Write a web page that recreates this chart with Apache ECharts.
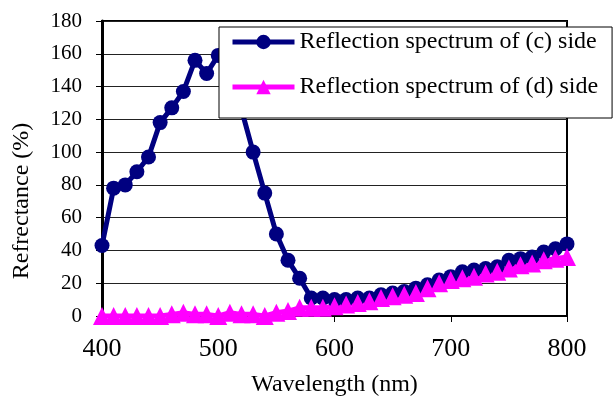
<!DOCTYPE html>
<html>
<head>
<meta charset="utf-8">
<script src="https://cdn.jsdelivr.net/npm/echarts@6/dist/echarts.min.js"></script>
<style>
  html, body { margin: 0; padding: 0; background: #fff; }
  #main { width: 613px; height: 397px; }
</style>
</head>
<body>
<div id="main"></div>
<script>
var wavelength = [400, 410, 420, 430, 440, 450, 460, 470, 480, 490,
  500, 510, 520, 530, 540, 550, 560, 570, 580, 590,
  600, 610, 620, 630, 640, 650, 660, 670, 680, 690,
  700, 710, 720, 730, 740, 750, 760, 770, 780, 790, 800];
var cSide = [43, 78, 80, 88, 97, 118, 127, 137, 156, 148,
  159, 155, 126, 100, 75, 50, 34, 23, 11, 11,
  10, 10, 11, 11, 13, 14, 15, 17, 19, 22,
  24, 27, 28, 29, 30, 34, 35, 36, 39, 41, 44];
var dSide = [0, 0, 0, 0, 0, 0, 1, 2, 1, 1,
  0, 2, 1, 1, 0, 2, 3, 5, 5, 5,
  6, 7, 8, 9, 11, 12, 13, 14, 17, 20,
  22, 23, 24, 26, 27, 29, 31, 32, 34, 35, 36];
var seriesNames = ['Reflection spectrum of (c) side', 'Reflection spectrum of (d) side'];

function pairs(ys) {
  return wavelength.map(function (x, i) { return [x, ys[i]]; });
}

var font = '"Liberation Serif", "Times New Roman", serif';

var option = {
  backgroundColor: '#fff',
  animation: false,
  textStyle: { fontFamily: font, color: '#000' },
  grid: {
    left: 102,
    right: 46,
    top: 21,
    bottom: 81,
    outerBoundsMode: 'none',
    containLabel: false,
    show: true,
    borderColor: '#000',
    borderWidth: 2
  },
  legend: {
    orient: 'vertical',
    left: 219,
    top: 27,
    data: seriesNames,
    itemWidth: 62,
    itemHeight: 18,
    itemGap: 21,
    padding: [3, 14, 19, 11],
    backgroundColor: '#fff',
    borderColor: '#000',
    borderWidth: 1,
    lineStyle: { width: 5 },
    textStyle: { fontFamily: font, fontSize: 24, color: '#000' }
  },
  xAxis: {
    type: 'value',
    min: 400,
    max: 800,
    interval: 100,
    name: 'Wavelength (nm)',
    nameLocation: 'middle',
    nameGap: 57,
    nameTextStyle: { fontFamily: font, fontSize: 24, color: '#000' },
    axisLine: { lineStyle: { color: '#000', width: 2 } },
    axisTick: { show: true, length: 6, lineStyle: { color: '#000' } },
    axisLabel: { margin: 20, fontSize: 26, color: '#000', fontFamily: font },
    splitLine: { show: false }
  },
  yAxis: {
    type: 'value',
    min: 0,
    max: 180,
    interval: 20,
    name: 'Refrectance (%)',
    nameLocation: 'middle',
    nameRotate: 90,
    nameGap: 68,
    nameTextStyle: { fontFamily: font, fontSize: 24, color: '#000', padding: [0, 65, 0, 0] },
    axisLine: { show: true, lineStyle: { color: '#000', width: 3 } },
    axisTick: { show: true, length: 6, lineStyle: { color: '#000' } },
    axisLabel: { margin: 20, fontSize: 21, color: '#000', fontFamily: font },
    splitLine: { show: true, lineStyle: { color: '#222', width: 1 } }
  },
  series: [
    {
      name: seriesNames[0],
      type: 'line',
      data: pairs(cSide),
      color: '#000080',
      symbol: 'circle',
      symbolSize: 15,
      showAllSymbol: true,
      lineStyle: { width: 5, color: '#000080' },
      itemStyle: { color: '#000080' }
    },
    {
      name: seriesNames[1],
      type: 'line',
      data: pairs(dSide),
      color: '#ff00ff',
      symbol: 'triangle',
      symbolSize: 18,
      showAllSymbol: true,
      lineStyle: { width: 5, color: '#ff00ff' },
      itemStyle: { color: '#ff00ff' }
    }
  ]
};

echarts.init(document.getElementById('main')).setOption(option);
</script>
</body>
</html>
